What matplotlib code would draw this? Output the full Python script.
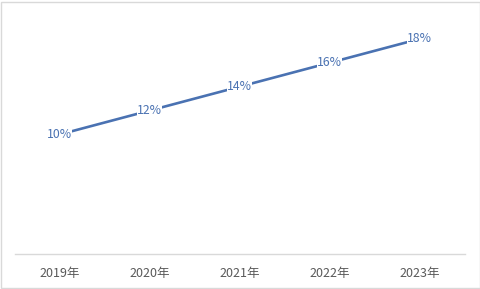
import matplotlib
matplotlib.use("Agg")
import matplotlib.pyplot as plt
from matplotlib.patches import Rectangle

plt.rcParams['font.family'] = ['Noto Sans CJK SC', 'DejaVu Sans']

years = ['2019年', '2020年', '2021年', '2022年', '2023年']
rates = [0.10, 0.12, 0.14, 0.16, 0.18]
labels = ['10%', '12%', '14%', '16%', '18%']

line_color = '#4A72B2'

fig = plt.figure(figsize=(4.81, 2.89), dpi=100)
ax = fig.add_axes([14.5 / 481, 35 / 289, 450 / 481, 239 / 289])

x = list(range(len(years)))
ax.plot(x, rates, color=line_color, linewidth=1.9, solid_capstyle='round')

# data labels sit on the points with a white box, covering the line
for xi, yi, lab in zip(x, rates, labels):
    ax.text(xi, yi, lab, ha='center', va='center', fontsize=8.8,
            color=line_color,
            bbox=dict(facecolor='white', edgecolor='none', pad=0.3))

ax.set_xlim(-0.5, len(years) - 0.5)
ax.set_ylim(0, 0.2)
ax.set_xticks(x)
ax.set_xticklabels(years, fontsize=9, color='#595959')
ax.tick_params(axis='x', length=0, pad=9)
ax.set_yticks([])
for side in ['top', 'left', 'right']:
    ax.spines[side].set_visible(False)
ax.spines['bottom'].set_color('#D9D9D9')
ax.spines['bottom'].set_linewidth(1)

# chart border
fig.patches.append(Rectangle((1 / 481, 1 / 289), 478.5 / 481, 286.5 / 289,
                             transform=fig.transFigure, fill=False,
                             edgecolor='#D9D9D9', linewidth=1))

fig.savefig('out.png', dpi=100)
